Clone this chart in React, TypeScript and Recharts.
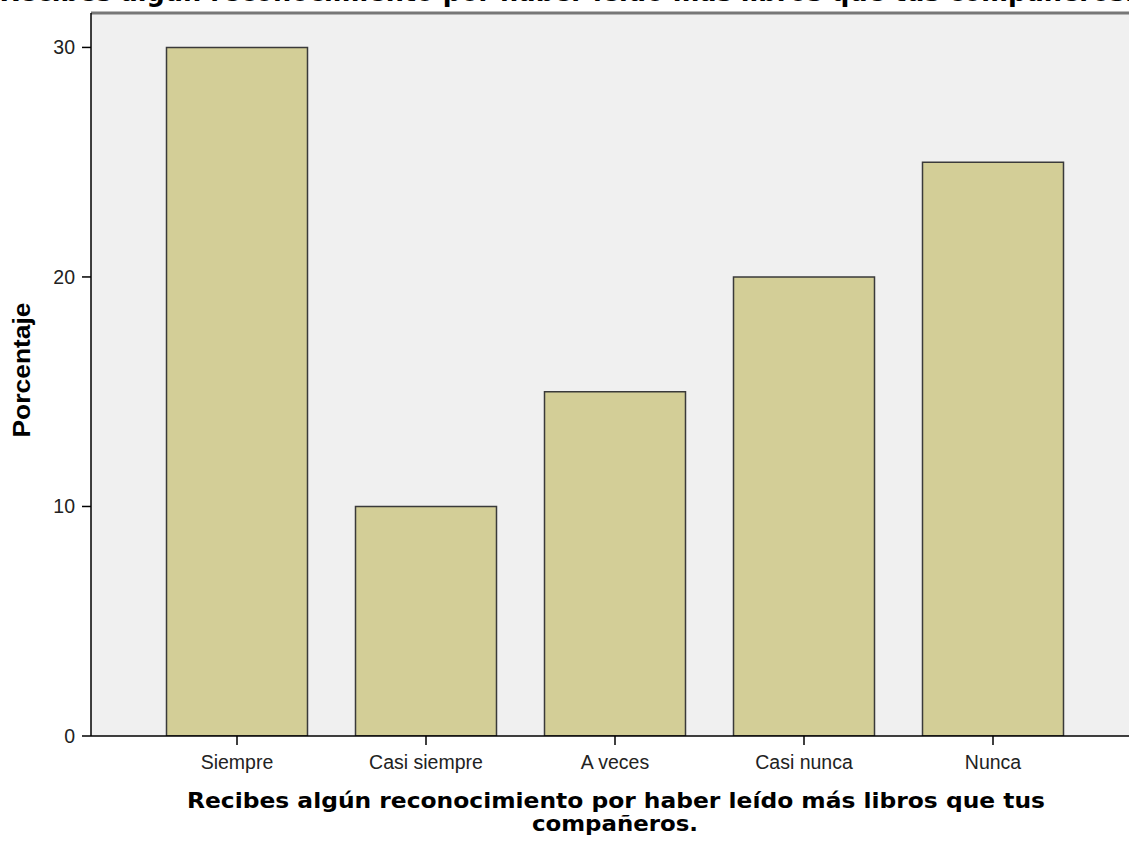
import React from "react";
import {
  BarChart,
  Bar,
  XAxis,
  YAxis,
  CartesianGrid,
  ReferenceLine,
  Label,
} from "recharts";

const categories: string[] = ["Siempre", "Casi siempre", "A veces", "Casi nunca", "Nunca"];
const percentages: number[] = [30, 10, 15, 20, 25];
const yTicks: number[] = [0, 10, 20, 30];

const titleText = "Recibes algún reconocimiento por haber leído más libros que tus compañeros.";
const axisTitleLines: string[] = [
  "Recibes algún reconocimiento por haber leído más libros que tus",
  "compañeros.",
];

const data = categories.map((c, i) => ({ name: c, value: percentages[i] }));

const titleFont = "'DejaVu Sans', Verdana, sans-serif";
const tickFont = "'Liberation Sans', Arial, sans-serif";

const XTitle = () => (
  <text
    textAnchor="middle"
    fontFamily={titleFont}
    fontWeight="bold"
    fontSize={22}
    fill="#000"
  >
    <tspan x={616} y={808} textLength={858} lengthAdjust="spacingAndGlyphs">
      {axisTitleLines[0]}
    </tspan>
    <tspan x={615} y={831} textLength={166} lengthAdjust="spacingAndGlyphs">
      {axisTitleLines[1]}
    </tspan>
  </text>
);

const YTitle = () => (
  <g>
    <text
      x={21}
      y={370}
      transform="rotate(-90 21 370)"
      textAnchor="middle"
      dominantBaseline="central"
      fontFamily={tickFont}
      fontWeight="bold"
      fontSize={24}
      textLength={135}
      lengthAdjust="spacingAndGlyphs"
      fill="#000"
    >
      Porcentaje
    </text>
    {/* title at the top is cut by the picture edge, as in the original */}
    <text
      x={567}
      y={1}
      textAnchor="middle"
      fontFamily={titleFont}
      fontWeight="bold"
      fontSize={26}
      textLength={1135}
      lengthAdjust="spacingAndGlyphs"
      fill="#000"
    >
      {titleText}
    </text>
  </g>
);

export default function App() {
  return (
    <div style={{ position: "absolute", left: 0, top: 0, width: 1129, height: 845, background: "#fff" }}>
      <BarChart
        width={1129}
        height={845}
        data={data}
        margin={{ top: 13, right: 0, bottom: 0, left: 31 }}
        barCategoryGap={24}
      >
        <CartesianGrid fill="#f0f0f0" stroke="none" horizontal={false} vertical={false} />
        <XAxis
          dataKey="name"
          height={109}
          padding={{ left: 51.5, right: 41.5 }}
          axisLine={{ stroke: "#000", strokeWidth: 1.5 }}
          tickLine={{ stroke: "#000", strokeWidth: 1.5 }}
          tickSize={9}
          tickMargin={10}
          tick={{ fill: "#222", fontSize: 19.5, fontFamily: tickFont }}
          interval={0}
        >
          <Label content={<XTitle />} />
        </XAxis>
        <YAxis
          width={60}
          domain={[0, 31.5]}
          ticks={yTicks}
          allowDataOverflow
          axisLine={{ stroke: "#000", strokeWidth: 1.5 }}
          tickLine={{ stroke: "#000", strokeWidth: 1.5 }}
          tickSize={9}
          tickMargin={7}
          tick={{ fill: "#222", fontSize: 19.5, fontFamily: tickFont }}
        >
          <Label content={<YTitle />} />
        </YAxis>
        <ReferenceLine y={31.5} stroke="#777" strokeWidth={3} />
        <Bar
          dataKey="value"
          fill="#d3ce97"
          stroke="#3a3a3a"
          strokeWidth={1.5}
          isAnimationActive={false}
        />
      </BarChart>
    </div>
  );
}
